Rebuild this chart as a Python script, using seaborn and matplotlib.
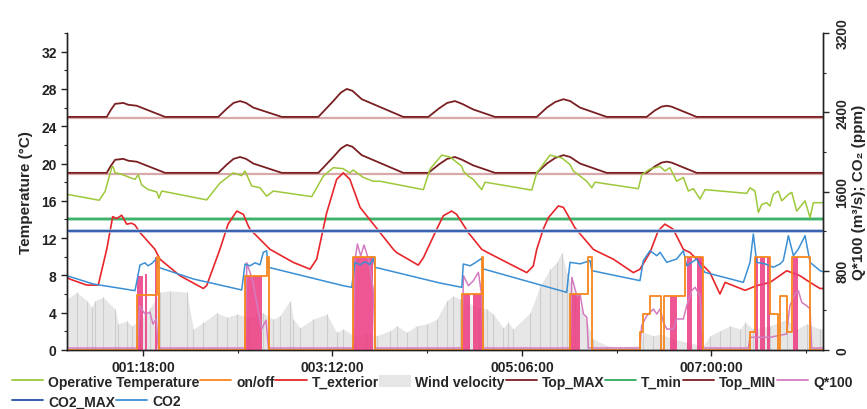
import matplotlib
matplotlib.use("Agg")
import matplotlib.pyplot as plt
import matplotlib.transforms as mtransforms
from matplotlib.lines import Line2D
from matplotlib.patches import Patch
from matplotlib.ticker import FixedLocator, MultipleLocator
import seaborn as sns
import pandas as pd

sns.set_style("ticks")
plt.rcParams['font.family'] = ['Liberation Sans', 'DejaVu Sans']
plt.rcParams['font.weight'] = 'bold'
plt.rcParams['axes.labelweight'] = 'bold'

# time axis in minutes
t_start, t_end = 32.3, 487.1
xtick_pos = [78, 192, 306, 420]
xtick_minor = [135, 249, 363, 477]
xtick_labels = ["001:18:00", "003:12:00", "005:06:00", "007:00:00"]

# setpoints (°C)
top_t = [32.3, 56.2, 58.5, 61.2, 66.2, 69.2, 74.2, 91.3, 123.3, 128.5, 132.5, 136.4, 140.0, 144.4,
         161.5, 183.5, 192.5, 197.0, 200.6, 204.0, 209.6, 234.6, 249.7, 256.0, 261.0, 265.7, 270.0,
         276.7, 289.8, 314.9, 321.0, 326.0, 330.9, 335.0, 340.9, 357.0, 381.0, 386.0, 390.0, 393.1,
         396.0, 400.1, 411.1, 487.1]
top_max = [25.0, 25.0, 25.7, 26.4, 26.5, 26.3, 26.2, 25.0, 25.0, 25.9, 26.5, 26.7, 26.5, 26.0,
           25.0, 25.0, 26.7, 27.6, 28.0, 27.8, 26.9, 25.0, 25.0, 25.9, 26.5, 26.7, 26.4,
           25.8, 25.0, 25.0, 26.0, 26.6, 26.9, 26.7, 26.0, 25.0, 25.0, 25.7, 26.1, 26.2,
           26.1, 25.8, 25.0, 25.0]
top_min = [19.0, 19.0, 19.7, 20.4, 20.5, 20.3, 20.2, 19.0, 19.0, 19.9, 20.5, 20.7, 20.5, 20.0,
           19.0, 19.0, 20.7, 21.6, 22.0, 21.8, 20.9, 19.0, 19.0, 19.9, 20.5, 20.7, 20.4,
           19.8, 19.0, 19.0, 20.0, 20.6, 20.9, 20.7, 20.0, 19.0, 19.0, 19.7, 20.1, 20.2,
           20.1, 19.8, 19.0, 19.0]
top_max_base = 25.0
top_min_base = 19.0
t_min = 14.0
co2_max = 1200

# operative temperature (°C)
op_t = [32.3, 51.7, 55.2, 59.2, 60.0, 61.2, 64.2, 73.2, 75.2, 77.2, 81.2, 86.3, 87.6, 89.3,
        116.3, 124.3, 132.3, 137.4, 139.4, 143.4, 148.4, 152.4, 156.4, 179.5, 186.5, 192.5,
        198.5, 202.5, 204.5, 210.6, 216.6, 220.6, 246.7, 250.7, 257.7, 262.7, 269.8, 270.7,
        273.7, 276.7, 281.8, 283.8, 311.9, 314.9, 322.9, 329.9, 334.9, 336.9, 341.0, 345.0,
        348.0, 350.0, 376.0, 378.1, 383.0, 389.0, 392.0, 395.0, 399.1, 403.1, 406.1, 409.1,
        413.1, 416.1, 441.2, 443.2, 446.2, 448.2, 450.2, 453.2, 455.2, 457.2, 460.2, 462.3,
        466.3, 468.3, 471.3, 476.3, 479.3, 481.3, 487.1]
op_temp = [16.7, 16.06, 17.0, 19.55, 19.7, 19.0, 18.9, 18.3, 18.8, 17.7, 17.2, 16.95, 16.3, 17.05,
           16.1, 17.9, 19.0, 18.7, 19.2, 17.6, 17.4, 16.5, 17.05, 16.45, 18.65, 19.55,
           19.45, 19.0, 19.3, 18.5, 18.1, 18.1, 17.2, 19.4, 20.9, 20.7, 19.7, 19.2,
           18.65, 18.3, 17.2, 18.0, 17.15, 19.0, 20.9, 20.6, 19.9, 19.2, 18.65, 18.1,
           17.4, 18.0, 17.3, 18.8, 19.4, 19.7, 19.2, 19.55, 18.1, 18.5, 17.05, 17.3,
           16.2, 17.2, 16.8, 17.4, 17.05, 14.75, 15.6, 15.8, 15.45, 16.7, 17.05, 16.0,
           16.7, 16.9, 14.9, 16.0, 14.2, 15.8, 15.8]

# exterior temperature (°C)
ext_t = [32.3, 34.1, 44.2, 51.1, 56.2, 59.8, 62.2, 65.2, 68.2, 71.2, 73.2, 76.2, 85.2, 88.2,
         100.3, 114.3, 116.3, 124.3, 129.2, 134.4, 138.4, 141.4, 142.4, 154.4, 156.4, 168.4,
         178.5, 182.5, 188.5, 194.5, 198.5, 202.5, 208.6, 216.6, 228.6, 230.6, 243.6, 246.7,
         254.7, 258.7, 263.7, 266.7, 273.7, 281.8, 284.8, 296.8, 308.9, 312.8, 314.9, 318.8,
         321.9, 327.9, 330.9, 337.9, 348.9, 351.0, 361.0, 373.0, 377.0, 383.0, 388.0, 392.0,
         397.0, 403.1, 407.1, 413.1, 419.1, 425.1, 428.2, 433.2, 440.2, 447.2, 455.2, 465.3,
         473.3, 479.3, 485.3, 487.1]
ext_temp = [7.8, 7.6, 6.96, 6.96, 10.8, 14.3, 14.1, 14.45, 13.5, 13.6, 13.4, 12.6, 10.8, 9.74,
            7.96, 6.6, 6.9, 10.8, 13.5, 14.9, 14.55, 13.3, 12.95, 10.8, 10.6, 9.4,
            8.67, 9.74, 14.7, 18.3, 19.0, 18.3, 15.3, 13.5, 10.8, 10.45, 9.1, 9.9,
            12.95, 14.4, 14.9, 14.55, 12.6, 10.8, 10.5, 9.4, 8.3, 9.0, 10.8, 12.95,
            14.2, 15.45, 15.3, 13.1, 10.8, 10.6, 9.74, 8.3, 8.67, 10.45, 12.8, 13.5,
            12.95, 10.8, 10.45, 9.4, 8.3, 6.0, 7.25, 6.9, 6.4, 6.9, 7.25, 8.5,
            7.96, 7.25, 6.6, 6.6]

# wind velocity (m/s, left axis)
wind_t = [32.3, 38.1, 44.2, 47.2, 49.1, 54.1, 61.2, 63.2, 68.2, 71.2, 76.2, 82.2, 88.2, 94.3,
          104.3, 108.3, 114.3, 122.4, 128.4, 134.4, 142.0, 150.0, 156.4, 160.4, 166.5, 168.4,
          172.5, 180.5, 188.5, 194.5, 198.5, 205.0, 212.0, 218.6, 226.6, 230.6, 236.6, 242.6,
          248.7, 254.7, 260.7, 264.7, 268.7, 274.0, 280.0, 284.8, 288.8, 294.8, 297.8, 300.8,
          310.9, 316.9, 322.9, 326.9, 329.9, 332.9, 338.0, 345.0, 348.9, 357.0, 365.0, 377.0,
          379.0, 385.1, 389.1, 397.1, 405.1, 415.1, 419.1, 425.1, 431.2, 437.2, 440.2, 445.2,
          455.2, 465.3, 471.3, 477.3, 485.3, 487.1]
wind_v = [5.46, 6.2, 5.3, 4.6, 5.3, 5.65, 4.4, 2.8, 3.1, 2.6, 3.2, 4.5, 6.2, 6.35,
          6.2, 2.25, 2.95, 4.0, 3.5, 3.85, 3.5, 4.0, 3.3, 3.7, 5.3, 3.3,
          2.4, 3.3, 3.85, 1.9, 2.25, 1.5, 1.8, 1.53, 2.07, 2.6, 1.9, 2.6,
          2.8, 3.3, 5.3, 5.8, 5.46, 5.0, 4.6, 4.4, 3.85, 2.4, 2.95, 2.25,
          4.0, 6.9, 8.67, 9.4, 10.45, 8.3, 6.0, 3.0, 1.2, 0.46, 0.29, 0.46,
          1.9, 1.53, 1.7, 1.2, 0.82, 0.46, 1.53, 2.07, 2.6, 2.25, 2.95, 2.25,
          2.6, 3.3, 2.25, 2.8, 2.25, 2.3]

# CO2 (ppm, right axis)
co2_t = [32.3, 48.1, 73.2, 74.6, 76.2, 79.2, 81.0, 83.4, 86.3, 87.2, 108.3, 137.4, 139.4, 142.4,
         145.4, 148.4, 150.4, 152.4, 153.4, 198.5, 203.6, 205.6, 208.6, 211.6, 214.6, 216.6,
         217.6, 256.7, 269.8, 270.7, 274.8, 277.8, 281.8, 282.8, 332.9, 334.9, 341.0, 347.0,
         348.0, 377.0, 379.0, 383.0, 387.1, 389.1, 393.1, 399.1, 403.1, 405.1, 411.1, 413.1,
         416.1, 439.2, 443.2, 445.2, 447.2, 452.2, 457.2, 461.2, 463.2, 466.3, 469.3, 472.3,
         476.3, 479.3, 485.3, 487.1]
co2 = [750, 666, 599, 717, 858, 880, 850, 875, 925, 835, 717, 606, 868, 850,
       880, 860, 986, 1002, 835, 649, 633, 885, 860, 890, 863, 925,
       835, 676, 633, 868, 850, 880, 925, 818, 582, 885, 870, 902,
       801, 700, 902, 1002, 952, 986, 885, 919, 1002, 851, 919, 851,
       784, 683, 885, 1171, 885, 870, 835, 868, 902, 1154, 952, 1020,
       1154, 885, 801, 790]

# ventilation on/off (right axis scale)
onoff_t = [32.3, 74.6, 86.6, 87.6, 139.4, 152.4, 154.0, 204.5, 217.6, 269.8, 281.8, 282.8,
           334.9, 346.0, 348.0, 377.0, 379.1, 383.0, 389.6, 391.5, 404.1, 415.1, 443.2, 446.2,
           455.2, 460.2, 461.2, 465.2, 468.3, 479.3, 487.1]
onoff = [0, 555, 936, 0, 750, 936, 0, 936, 0, 565, 936, 0,
         565, 936, 0, 178, 363, 548, 0, 548, 936, 0, 178, 936,
         363, 0, 548, 178, 936, 0, 0]

# dense switching periods (pink bands)
pink_t0 = [74.6, 79.2, 85.2, 139.4, 204.5, 269.8, 276.8, 334.9, 395.1, 405.1, 411.1, 446.2,
           449.2, 453.2, 469.3]
pink_t1 = [77.8, 80.6, 86.6, 149.4, 216.6, 274.8, 281.8, 341.0, 399.1, 408.1, 415.1, 448.2,
           452.2, 455.2, 472.3]
pink_h = [750, 767, 936, 750, 936, 565, 565, 565, 548, 936, 936, 936, 936, 936, 936]

# Q*100
q_t = [32.3, 74.6, 76.0, 79.2, 82.2, 84.0, 86.0, 87.2, 139.4, 140.5, 144.0, 149.4, 152.0, 153.5,
       204.5, 205.5, 207.0, 209.0, 211.0, 214.0, 216.6, 217.6, 269.8, 270.8, 273.8, 276.8,
       279.8, 281.8, 282.8, 334.9, 336.0, 339.0, 341.0, 343.0, 345.0, 346.0, 377.0, 378.0,
       381.1, 385.1, 387.1, 389.1, 391.1, 393.1, 397.1, 399.1, 403.1, 405.1, 408.1, 410.1,
       413.1, 415.1, 442.2, 443.2, 455.2, 465.2, 467.2, 470.3, 472.3, 474.3, 477.3, 479.3,
       480.3, 487.1]
q100 = [20, 20, 447, 363, 380, 262, 313, 20, 20, 880, 700, 212, 300, 20,
        20, 900, 1070, 950, 1060, 900, 600, 20, 20, 750, 649, 700,
        784, 548, 20, 20, 734, 548, 560, 363, 330, 20, 20, 245,
        346, 414, 363, 414, 280, 212, 212, 313, 313, 447, 599, 633,
        548, 20, 20, 128, 128, 162, 447, 565, 599, 480, 447, 414,
        20, 20]

df_q = pd.DataFrame({"t": q_t, "q": q100})
df_co2 = pd.DataFrame({"t": co2_t, "co2": co2})
df_onoff = pd.DataFrame({"t": onoff_t, "onoff": onoff})

c_op = "#9dc83a"
c_onoff = "#f7861d"
c_ext = "#e8262b"
c_top = "#7a1f22"
c_tmin = "#2eaa5f"
c_q = "#d37bbf"
c_co2max = "#2453a6"
c_co2 = "#3b8fd4"
c_wind = "#e6e6e6"

fig = plt.figure(figsize=(8.67, 4.10), dpi=100)
ax = fig.add_axes([67 / 867, 1 - 351 / 410, (823 - 67) / 867, (351 - 34) / 410])
ax2 = ax.twinx()

down = mtransforms.ScaledTranslation(0, -0.012, fig.dpi_scale_trans)
up = mtransforms.ScaledTranslation(0, 0.006, fig.dpi_scale_trans)


def shifted_hline(a, y, shift, **kw):
    ln = a.axhline(y, **kw)
    ln.set_transform(ln.get_transform() + shift)
    return ln


# left axis: wind + temperatures
ax.fill_between(wind_t, 0, wind_v, color=c_wind, lw=0, zorder=0.5)
ax.vlines(wind_t, 0, wind_v, color="#cdcdcd", lw=0.8, zorder=0.6)

shifted_hline(ax, top_max_base, down, color="#d9a9a9", lw=1.6)
shifted_hline(ax, top_min_base, down, color="#d9a9a9", lw=1.6)
ax.axhline(t_min, color="#93d4ac", lw=2.6)
shifted_hline(ax, t_min, up, color=c_tmin, lw=1.2)

sns.lineplot(x=top_t, y=top_max, ax=ax, color=c_top, lw=1.3, estimator=None, sort=False)
sns.lineplot(x=top_t, y=top_min, ax=ax, color=c_top, lw=1.3, estimator=None, sort=False)
sns.lineplot(x=op_t, y=op_temp, ax=ax, color=c_op, lw=1.1, estimator=None, sort=False)
sns.lineplot(x=ext_t, y=ext_temp, ax=ax, color=c_ext, lw=1.2, estimator=None, sort=False)

# right axis: ventilation, Q and CO2
ax2.axhline(co2_max, color="#a9bde0", lw=2.6)
shifted_hline(ax2, co2_max, up, color=c_co2max, lw=1.2)
ax2.bar(pink_t0, pink_h, width=[b - a for a, b in zip(pink_t0, pink_t1)], align="edge",
        color="#ec3a80", alpha=0.85, lw=0, zorder=1)
sns.lineplot(data=df_q, x="t", y="q", ax=ax2, color=c_q, lw=1.1, estimator=None, sort=False)
sns.lineplot(data=df_co2, x="t", y="co2", ax=ax2, color=c_co2, lw=1.1, estimator=None, sort=False)
sns.lineplot(data=df_onoff, x="t", y="onoff", ax=ax2, color=c_onoff, lw=1.3,
             estimator=None, sort=False, drawstyle="steps-post")

ax.set_xlim(t_start, t_end)
ax.set_ylim(0, 34)
ax2.set_ylim(0, 3200)

ax.xaxis.set_major_locator(FixedLocator(xtick_pos))
ax.xaxis.set_minor_locator(FixedLocator(xtick_minor))
ax.set_xticklabels(xtick_labels)
ax.yaxis.set_major_locator(MultipleLocator(4))
ax.yaxis.set_minor_locator(MultipleLocator(2))
ax2.yaxis.set_major_locator(MultipleLocator(800))
ax2.yaxis.set_minor_locator(MultipleLocator(400))

ax.tick_params(which="major", direction="out", length=4, width=1, labelsize=10, colors="#222222")
ax.tick_params(which="minor", direction="out", length=2.5, width=0.8)
ax2.tick_params(which="major", direction="out", length=4, width=1, labelsize=10, pad=5)
ax2.tick_params(which="minor", direction="out", length=2.5, width=0.8)
for lbl in ax2.get_yticklabels():
    lbl.set_rotation(90)
    lbl.set_va("center")

ax.set_xlabel("")
ax.set_ylabel("Temperature (°C)", fontsize=11, labelpad=6)
ax2.set_ylabel("Q*100 (m³/s); CO₂ (ppm)", fontsize=11, labelpad=2)

for a in (ax, ax2):
    a.spines["top"].set_visible(False)
    for s in ("left", "right", "bottom"):
        a.spines[s].set_linewidth(1.0)
        a.spines[s].set_color("#222222")

row1 = [
    Line2D([], [], color=c_op, lw=1.3, label="Operative Temperature"),
    Line2D([], [], color=c_onoff, lw=1.3, label="on/off"),
    Line2D([], [], color=c_ext, lw=1.3, label="T_exterior"),
    Patch(facecolor=c_wind, edgecolor="none", label="Wind velocity"),
    Line2D([], [], color=c_top, lw=1.3, label="Top_MAX"),
    Line2D([], [], color=c_tmin, lw=1.3, label="T_min"),
    Line2D([], [], color=c_top, lw=1.3, label="Top_MIN"),
    Line2D([], [], color=c_q, lw=1.3, label="Q*100"),
]
row2 = [
    Line2D([], [], color=c_co2max, lw=1.3, label="CO2_MAX"),
    Line2D([], [], color=c_co2, lw=1.3, label="CO2"),
]
leg_kw = dict(frameon=False, fontsize=10, handlelength=2.25, handletextpad=0.35,
              columnspacing=0.05, borderaxespad=0, borderpad=0, handleheight=1.0)
fig.legend(handles=row1, loc="upper left", bbox_to_anchor=(0.0138, 0.083), ncol=8, **leg_kw)
fig.legend(handles=row2, loc="upper left", bbox_to_anchor=(0.0138, 0.036), ncol=2, **leg_kw)

fig.savefig("out.png", dpi=100)
